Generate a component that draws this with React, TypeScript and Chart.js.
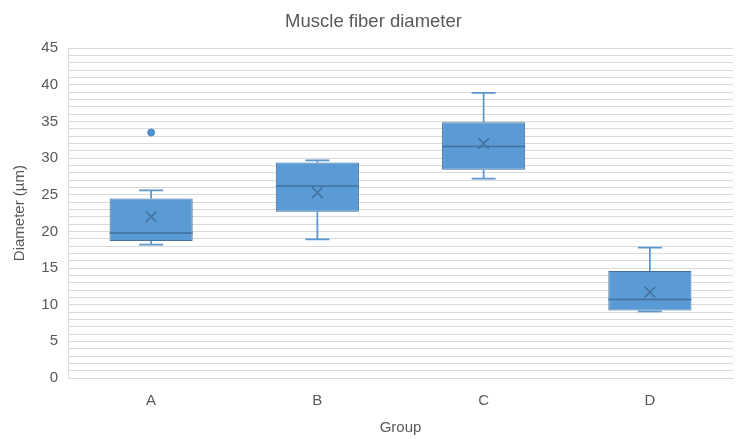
import React, { useEffect, useRef } from "react";
import { Chart, registerables } from "chart.js";

Chart.register(...registerables);

// Box-plot summary per group
const groups = ["A", "B", "C", "D"];
const q1 = [18.7, 22.7, 28.4, 9.2];
const q3 = [24.5, 29.4, 34.9, 14.6];
const medians = [19.8, 26.2, 31.6, 10.7];
const means = [22.0, 25.3, 32.0, 11.7];
const whiskerLow = [18.2, 18.9, 27.2, 9.1];
const whiskerHigh = [25.6, 29.7, 38.9, 17.8];
const outliers = [33.5, null, null, null];

const yTicks = { min: 0, max: 45, step: 1, labelEvery: 5 };

const TEXT = "#595959";
const GRID = "#D9D9D9";
const BOX_FILL = "#5B9BD5";
const BOX_EDGE = "#41719C";
const FONT = "Liberation Sans, Arial, sans-serif";

// Draws whiskers, caps and median lines on top of the floating bars
const boxDecor = {
  id: "boxDecor",
  afterDatasetsDraw(chart: any) {
    const meta = chart.getDatasetMeta(0);
    const y = chart.scales.y;
    const ctx = chart.ctx;
    ctx.save();
    meta.data.forEach((bar: any, i: number) => {
      const x = bar.x;
      const half = bar.width / 2;
      const cap = 12;
      const yq1 = y.getPixelForValue(q1[i]);
      const yq3 = y.getPixelForValue(q3[i]);
      const yLo = y.getPixelForValue(whiskerLow[i]);
      const yHi = y.getPixelForValue(whiskerHigh[i]);
      const yMed = y.getPixelForValue(medians[i]);

      ctx.strokeStyle = "#5A96D0";
      ctx.lineWidth = 1.75;
      ctx.beginPath();
      ctx.moveTo(x, yq3);
      ctx.lineTo(x, yHi);
      ctx.moveTo(x - cap, yHi);
      ctx.lineTo(x + cap, yHi);
      ctx.moveTo(x, yq1);
      ctx.lineTo(x, yLo);
      ctx.moveTo(x - cap, yLo);
      ctx.lineTo(x + cap, yLo);
      ctx.stroke();

      ctx.strokeStyle = BOX_EDGE;
      ctx.lineWidth = 1.5;
      ctx.beginPath();
      ctx.moveTo(x - half, yMed);
      ctx.lineTo(x + half, yMed);
      ctx.stroke();
    });
    ctx.restore();
  },
};

export default function App() {
  const ref = useRef<HTMLCanvasElement | null>(null);

  useEffect(() => {
    if (!ref.current) return;
    const chart = new Chart(ref.current, {
      type: "bar",
      data: {
        labels: groups,
        datasets: [
          {
            type: "bar",
            label: "Box",
            data: groups.map((_, i) => [q1[i], q3[i]]) as any,
            backgroundColor: BOX_FILL,
            borderColor: BOX_EDGE,
            borderWidth: 1,
            borderSkipped: false,
            barPercentage: 0.5,
            categoryPercentage: 1,
            order: 2,
          },
          {
            type: "line",
            label: "Mean",
            data: means,
            showLine: false,
            pointStyle: "crossRot",
            pointRadius: 7.5,
            borderColor: BOX_EDGE,
            borderWidth: 1.5,
            backgroundColor: BOX_EDGE,
            order: 0,
          },
          {
            type: "line",
            label: "Outlier",
            data: outliers as any,
            showLine: false,
            pointStyle: "circle",
            pointRadius: 3.5,
            borderColor: "#4A88C6",
            backgroundColor: "#4F8FCF",
            borderWidth: 1,
            order: 0,
          },
        ],
      },
      options: {
        animation: false,
        responsive: true,
        maintainAspectRatio: false,
        layout: { padding: { left: 14, right: 14, top: 0, bottom: 0 } },
        plugins: {
          legend: { display: false },
          tooltip: { enabled: false },
          title: {
            display: true,
            text: "Muscle fiber diameter",
            color: TEXT,
            font: { family: FONT, size: 18.5, weight: "normal" },
            padding: { top: 11, bottom: 15 },
          },
        },
        scales: {
          x: {
            type: "category",
            offset: true,
            grid: { display: false, drawTicks: false },
            border: { display: true, color: GRID, width: 1 },
            ticks: {
              color: TEXT,
              padding: 14,
              font: { family: FONT, size: 15 },
            },
            title: {
              display: true,
              text: "Group",
              color: TEXT,
              font: { family: FONT, size: 15 },
              padding: { top: 0, bottom: 2 },
            },
            afterFit: (s: any) => {
              s.height = 61;
            },
          },
          y: {
            min: yTicks.min,
            max: yTicks.max,
            grid: { color: GRID, lineWidth: 1, drawTicks: false },
            border: { display: true, color: GRID, width: 1 },
            ticks: {
              stepSize: yTicks.step,
              autoSkip: false,
              color: TEXT,
              padding: 10,
              font: { family: FONT, size: 15 },
              callback: (v: any) => (Number(v) % yTicks.labelEvery === 0 ? String(v) : ""),
            },
            title: {
              display: true,
              text: "Diameter (µm)",
              color: TEXT,
              font: { family: FONT, size: 15 },
              padding: { top: -3, bottom: 0 },
            },
            afterFit: (s: any) => {
              s.width = 54;
            },
          },
        },
      },
      plugins: [boxDecor],
    });
    return () => chart.destroy();
  }, []);

  return (
    <div style={{ position: "fixed", left: 0, top: 0, width: 747, height: 439, background: "#fff" }}>
      <canvas ref={ref} />
    </div>
  );
}
